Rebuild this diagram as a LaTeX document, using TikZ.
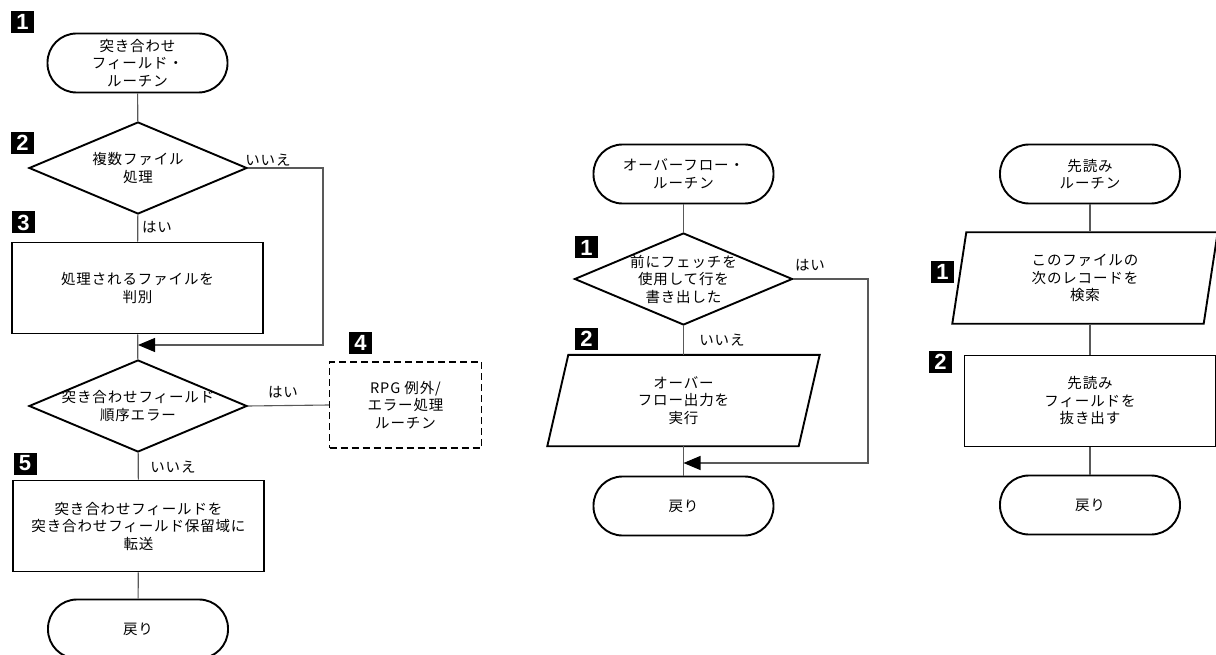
\documentclass[tikz,border=0pt]{standalone}
\usepackage{fontspec}
\newfontfamily\jp[LetterSpace=6]{Noto Sans CJK JP}
\newfontfamily\badgefont{Liberation Sans}
\usetikzlibrary{arrows.meta,shapes.geometric,calc}
\begin{document}
\begin{tikzpicture}[x=1pt,y=-1pt,
  txt/.style={font=\jp\fontsize{14.5}{17.5}\selectfont, align=center, inner sep=0pt},
  outl/.style={draw=black, line width=1.9pt},
  term/.style={txt, outl, rounded corners=29pt, minimum width=180pt, minimum height=59pt},
  proc/.style={txt, outl, minimum width=251pt, minimum height=91pt},
  dec/.style={outl, diamond, inner sep=0pt, minimum width=218pt, minimum height=92pt},
  iobox/.style={txt, minimum width=251pt, minimum height=91pt},
  errbox/.style={txt, draw=black, line width=1.3pt, dash pattern=on 7pt off 4pt, minimum width=152pt, minimum height=86pt},
  conn/.style={draw=black!65, line width=1.1pt},
  arr/.style={conn, -{Triangle[length=17pt,width=14pt,color=black]}},
  lbl/.style={font=\jp\fontsize{14.5}{17}\selectfont, inner sep=0pt},
  badge/.style={fill=black, text=white, inner sep=0pt, minimum width=23pt, minimum height=22pt,
    font=\badgefont\bfseries\fontsize{22}{22}\selectfont},
]
\useasboundingbox (0,0) rectangle (1216,655);

% ---------------- left column ----------------
\node[term] (L0) at (137.5,63) {突き合わせ\\フィールド・\\ルーチン};
\node[dec] (L2) at (138,168) {};
\node[txt] (L2t) at (L2) {複数ファイル\\処理};
\node[proc] (L3) at (137.5,288) {処理されるファイルを\\判別};
\node[dec] (L4) at (138,406) {};
\node[txt] (L4t) at (L4) {突き合わせフィールド\\順序エラー};
\node[errbox] (L4b) at (405.5,405) {RPG 例外/\\エラー処理\\ルーチン};
\node[proc] (L5) at (138.5,526) {突き合わせフィールドを\\突き合わせフィールド保留域に\\転送};
\node[term] (L6) at (138,629) {戻り};

\coordinate (cL) at (323,345);
\coordinate (mL) at (138,345);

\draw[conn] (L0) -- (L2);
\draw[conn] (L2) -- (L3);
\draw[conn] (L3) -- (L4);
\draw[arr] (L2.east) -| (cL) -- (mL);
\draw[conn] (L4.east) -- (L4b.west);
\draw[conn] (L4) -- (L5);
\draw[conn] (L5) -- (L6);

\node[lbl] (n1) at (268,160) {いいえ};
\node[lbl] (y1) at (157,227) {はい};
\node[lbl] (y2) at (283,392) {はい};
\node[lbl] (n2) at (173,467) {いいえ};

\node[badge] (b1) at (22.5,22) {1};
\node[badge] (b2) at (22.5,143) {2};
\node[badge] (b3) at (23.5,222.5) {3};
\node[badge] (b4) at (360.5,342.5) {4};
\node[badge] (b5) at (25,463.5) {5};

% ---------------- middle column ----------------
\node[term] (M0) at (683.5,174) {オーバーフロー・\\ルーチン};
\node[dec] (M1) at (683.5,279) {};
\node[txt] (M1t) at (M1) {前にフェッチを\\使用して行を\\書き出した};
\node[iobox] (M2) at (683.5,400.5) {オーバー\\フロー出力を\\実行};
\draw[outl] ($(M2.south west)+(-10.5,0)$) -- ($(M2.south east)+(-10.5,0)$)
  -- ($(M2.north east)+(10.5,0)$) -- ($(M2.north west)+(10.5,0)$) -- cycle;
\node[term] (M3) at (683.5,506) {戻り};

\coordinate (cM) at (868,463);
\coordinate (mM) at (683.5,463);

\draw[conn] (M0) -- (M1);
\draw[conn] (M1) -- (M2);
\draw[conn] (M2) -- (M3);
\draw[arr] (M1.east) -| (cM) -- (mM);

\node[lbl] (y3) at (810,265) {はい};
\node[lbl] (n3) at (722,340) {いいえ};

\node[badge] (mb1) at (586.5,247.5) {1};
\node[badge] (mb2) at (586.5,338.5) {2};

% ---------------- right column ----------------
\node[term] (R0) at (1090,174) {先読み\\ルーチン};
\node[iobox] (R1) at (1085,278) {このファイルの\\次のレコードを\\検索};
\draw[outl] ($(R1.south west)+(-7,0)$) -- ($(R1.south east)+(-7,0)$)
  -- ($(R1.north east)+(7,0)$) -- ($(R1.north west)+(7,0)$) -- cycle;
\node[proc] (R2) at (1090,401) {先読み\\フィールドを\\抜き出す};
\node[term] (R3) at (1090,505) {戻り};

\draw[conn] (R0.south) -- (R0.south |- R1.north);
\draw[conn] (R2.north |- R1.south) -- (R2.north);
\draw[conn] (R2) -- (R3);

\node[badge] (rb1) at (942.5,272) {1};
\node[badge] (rb2) at (940.5,362) {2};
\end{tikzpicture}
\end{document}
